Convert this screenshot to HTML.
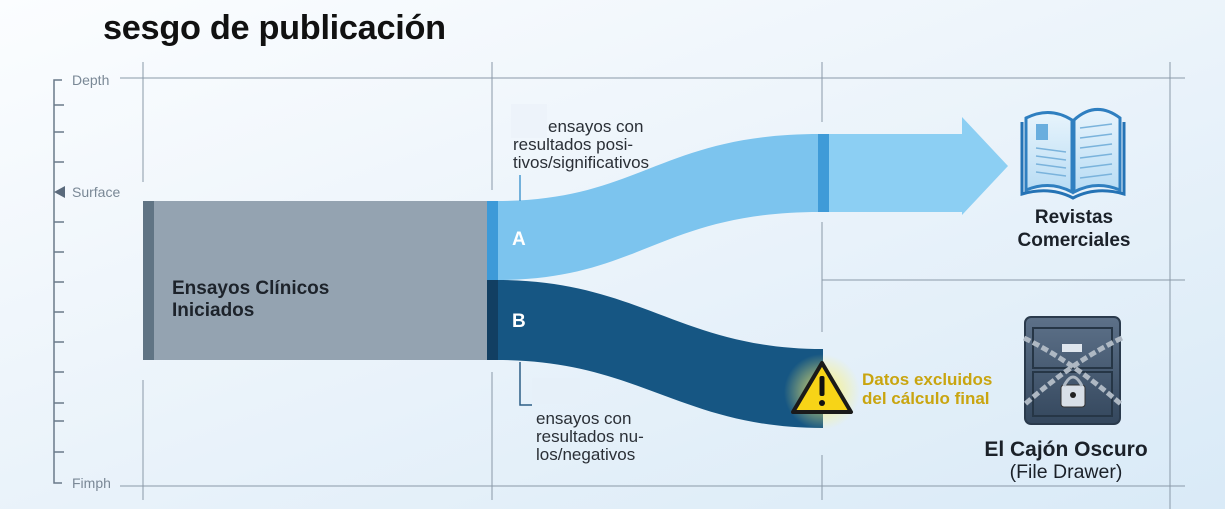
<!DOCTYPE html>
<html><head><meta charset="utf-8"><style>
html,body{margin:0;padding:0}
body{width:1225px;height:509px;overflow:hidden;background:linear-gradient(160deg,#fbfdff 0%,#eef5fb 40%,#d9eaf7 100%);font-family:"Liberation Sans",sans-serif;position:relative}
.t{position:absolute;white-space:nowrap}
</style></head><body>
<div class="t" style="left:103px;top:9px;font-size:34.3px;font-weight:bold;color:#111;letter-spacing:-0.3px">sesgo de publicación</div>
<svg width="1225" height="509" style="position:absolute;left:0;top:0">
<defs>
<radialGradient id="glow"><stop offset="0" stop-color="#fff36a" stop-opacity="0.9"/><stop offset="1" stop-color="#fff36a" stop-opacity="0"/></radialGradient>
<linearGradient id="book" x1="0" y1="0" x2="0" y2="1"><stop offset="0" stop-color="#e8f4fc"/><stop offset="1" stop-color="#b8dcf4"/></linearGradient>
<linearGradient id="cab" x1="0" y1="0" x2="0" y2="1"><stop offset="0" stop-color="#5d7189"/><stop offset="1" stop-color="#34475d"/></linearGradient>
</defs>
<g stroke="#8a99a8" stroke-width="1" fill="none">
<line x1="120" y1="78" x2="1185" y2="78"/>
<line x1="120" y1="486" x2="1185" y2="486"/>
<line x1="822" y1="280" x2="1185" y2="280"/>
<line x1="143" y1="62" x2="143" y2="182"/>
<line x1="143" y1="380" x2="143" y2="500"/>
<line x1="492" y1="62" x2="492" y2="190"/>
<line x1="492" y1="372" x2="492" y2="500"/>
<line x1="822" y1="62" x2="822" y2="122"/>
<line x1="822" y1="222" x2="822" y2="332"/>
<line x1="822" y1="455" x2="822" y2="500"/>
<line x1="1170" y1="62" x2="1170" y2="509"/>
<polyline points="62,80 54,80 54,483 62,483" stroke="#6a7a8a" stroke-width="1.5"/>
<g stroke="#6a7a8a" stroke-width="1.5">
<line x1="54" y1="105" x2="64" y2="105"/><line x1="54" y1="132" x2="64" y2="132"/><line x1="54" y1="162" x2="64" y2="162"/>
<line x1="54" y1="222" x2="64" y2="222"/><line x1="54" y1="252" x2="64" y2="252"/><line x1="54" y1="282" x2="64" y2="282"/>
<line x1="54" y1="312" x2="64" y2="312"/><line x1="54" y1="342" x2="64" y2="342"/><line x1="54" y1="372" x2="64" y2="372"/>
<line x1="54" y1="403" x2="64" y2="403"/><line x1="54" y1="421" x2="64" y2="421"/><line x1="54" y1="452" x2="64" y2="452"/>
</g>
</g>
<polygon points="54,192 65,186 65,198" fill="#5a6a7c"/>
<rect x="143" y="201" width="345" height="159" fill="#94a3b1"/>
<rect x="143" y="201" width="11" height="159" fill="#607484"/>
<path d="M497,201 C640,201 660,134 820,134 L820,212 C660,212 640,280 497,280 Z" fill="#7cc4ee"/>
<rect x="818" y="134" width="11" height="78" fill="#3f9bd8"/>
<polygon points="829,134 962,134 962,117 1008,166 962,215 962,212 829,212" fill="#8ccff3"/>
<rect x="487" y="201" width="11" height="79" fill="#3d9ad8"/>
<path d="M497,280 C640,280 680,349 823,349 L823,428 C680,428 640,360 497,360 Z" fill="#165683"/>
<rect x="487" y="280" width="11" height="80" fill="#123f62"/>
<line x1="520" y1="175" x2="520" y2="201" stroke="#4a9ad0" stroke-width="1.5"/>
<polyline points="520,362 520,405 532,405" fill="none" stroke="#2d5f86" stroke-width="1.5"/>
<rect x="511" y="104" width="36" height="34" fill="#edf3fa"/>
<rect x="532" y="378" width="48" height="26" fill="#e6f0f9"/>
<circle cx="822" cy="392" r="38" fill="url(#glow)"/>
<path d="M822,363 L851,412 L793,412 Z" fill="#f7d417" stroke="#1a1a1a" stroke-width="4" stroke-linejoin="round"/>
<rect x="819.5" y="376" width="5" height="20" rx="2" fill="#111"/>
<circle cx="822" cy="403" r="3" fill="#111"/>
<g>
<path d="M1026,118 Q1050,106 1072,120 L1072,192 Q1050,180 1026,190 Z" fill="url(#book)" stroke="#2f7fc0" stroke-width="3"/>
<path d="M1120,118 Q1096,100 1074,120 L1074,192 Q1096,180 1120,190 Z" fill="url(#book)" stroke="#2f7fc0" stroke-width="3"/>
<path d="M1022,122 L1022,194 Q1050,186 1073,198 Q1096,186 1124,194 L1124,122" fill="none" stroke="#2573b5" stroke-width="3"/>
<rect x="1036" y="124" width="12" height="16" fill="#6aaede"/>
<g stroke="#7ab3dc" stroke-width="1.5">
<line x1="1036" y1="148" x2="1066" y2="152"/><line x1="1036" y1="156" x2="1066" y2="160"/><line x1="1036" y1="164" x2="1066" y2="168"/><line x1="1036" y1="172" x2="1066" y2="176"/>
<line x1="1080" y1="128" x2="1112" y2="124"/><line x1="1080" y1="138" x2="1112" y2="134"/><line x1="1080" y1="148" x2="1112" y2="144"/><line x1="1080" y1="158" x2="1112" y2="154"/><line x1="1080" y1="168" x2="1112" y2="164"/><line x1="1080" y1="178" x2="1112" y2="174"/>
</g>
</g>
<g>
<rect x="1025" y="317" width="95" height="107" rx="6" fill="url(#cab)" stroke="#2a3a4c" stroke-width="2"/>
<rect x="1033" y="328" width="79" height="40" fill="none" stroke="#263646" stroke-width="2"/>
<rect x="1033" y="372" width="79" height="44" fill="none" stroke="#263646" stroke-width="2"/>
<rect x="1062" y="344" width="20" height="8" fill="#dfe6ee"/>
<g stroke="#aeb8c3" stroke-width="5" stroke-dasharray="7 3" fill="none">
<path d="M1024,338 Q1070,360 1122,405"/>
<path d="M1122,338 Q1075,360 1024,405"/>
</g>
<rect x="1061" y="385" width="24" height="22" rx="3" fill="#d8dfe7" stroke="#333" stroke-width="1"/>
<path d="M1064,386 Q1073,368 1082,386" fill="none" stroke="#aeb8c3" stroke-width="3"/>
<circle cx="1073" cy="395" r="3" fill="#222"/>
</g>
</svg>
<div class="t" style="left:72px;top:72px;font-size:14px;color:#7a8896">Depth</div>
<div class="t" style="left:72px;top:184px;font-size:14px;color:#7a8896">Surface</div>
<div class="t" style="left:72px;top:475px;font-size:14px;color:#7a8896">Fimph</div>
<div class="t" style="left:172px;top:278px;font-size:19px;font-weight:bold;color:#1d232b;line-height:22px">Ensayos Clínicos<br>Iniciados</div>
<div class="t" style="left:512px;top:229px;font-size:19px;font-weight:bold;color:#fff">A</div>
<div class="t" style="left:512px;top:311px;font-size:19px;font-weight:bold;color:#fff">B</div>
<div class="t" style="left:513px;top:118px;font-size:17px;color:#2a2f36;line-height:18px"><span style="display:inline-block;width:35px"></span>ensayos con<br>resultados posi-<br>tivos/significativos</div>
<div class="t" style="left:536px;top:410px;font-size:17px;color:#2a2f36;line-height:18px">ensayos con<br>resultados nu-<br>los/negativos</div>
<div class="t" style="left:862px;top:370px;font-size:17px;font-weight:bold;color:#c9a510;line-height:19px">Datos excluidos<br>del cálculo final</div>
<div class="t" style="left:1074px;top:206px;transform:translateX(-50%);font-size:19px;font-weight:bold;color:#1b2129;text-align:center;line-height:23px">Revistas<br>Comerciales</div>
<div class="t" style="left:1066px;top:439px;transform:translateX(-50%);font-size:21px;font-weight:bold;color:#1b2129;text-align:center;line-height:22px">El Cajón Oscuro<br><span style="font-weight:normal;font-size:19.5px">(File Drawer)</span></div>
</body></html>
